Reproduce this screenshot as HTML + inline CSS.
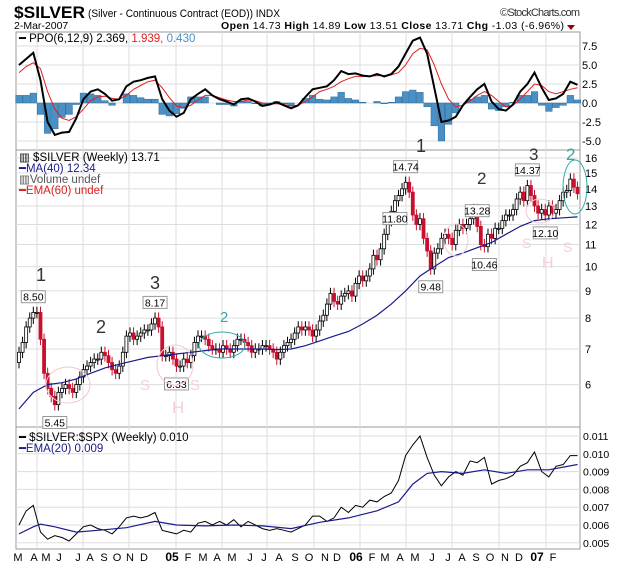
<!DOCTYPE html>
<html><head><meta charset="utf-8"><style>
body{margin:0;background:#fff;}
svg{display:block;font-family:"Liberation Sans",sans-serif;}
</style></head><body>
<svg id="c" width="620" height="566" viewBox="0 0 620 566" xmlns="http://www.w3.org/2000/svg">
<rect width="620" height="566" fill="#fff"/>
<g>
<text x="14" y="18" font-size="17" font-weight="bold" textLength="71" lengthAdjust="spacingAndGlyphs">$SILVER</text>
<text x="88" y="17" font-size="11" textLength="192" lengthAdjust="spacingAndGlyphs">(Silver - Continuous Contract (EOD)) INDX</text>
<text x="500" y="16" font-size="11" fill="#333" textLength="80">©StockCharts.com</text>
<text x="14" y="29" font-size="10.5">2-Mar-2007</text>
<text x="221" y="29" font-size="10.5" textLength="343"><tspan font-weight="bold">Open</tspan> 14.73 <tspan font-weight="bold">High</tspan> 14.89 <tspan font-weight="bold">Low</tspan> 13.51 <tspan font-weight="bold">Close</tspan> 13.71 <tspan font-weight="bold">Chg</tspan> -1.03 (-6.96%)</text>
<polygon points="567,25 575,25 571,30" fill="#900"/>
</g>
<g id="grid"></g>
<g id="marks"></g>
<g id="axes"></g>
<g fill="none" stroke-width="1">
<text x="36" y="281" font-size="18" fill="#333">1</text>
<text x="96" y="333" font-size="18" fill="#333">2</text>
<text x="150" y="289" font-size="18" fill="#333">3</text>
<text x="220" y="322" font-size="15" fill="#3aa">2</text>
<ellipse cx="222" cy="345" rx="23" ry="13" stroke="#3aa"/>
<text x="416" y="152" font-size="18" fill="#333">1</text>
<text x="477" y="184" font-size="17" fill="#333">2</text>
<text x="529" y="160" font-size="17" fill="#333">3</text>
<text x="566" y="160" font-size="17" fill="#3aa">2</text>
<ellipse cx="575" cy="187" rx="12" ry="27" stroke="#3aa"/>
<ellipse cx="68" cy="385" rx="22" ry="18" stroke="#f0c8d0"/>
<ellipse cx="175" cy="365" rx="18" ry="20" stroke="#f0c8d0"/>
<ellipse cx="456" cy="240" rx="12" ry="16" stroke="#f0c8d0"/>
<ellipse cx="540" cy="211" rx="14" ry="12" stroke="#f0c8d0"/>
<text x="172" y="413" font-size="17" fill="#f4d0d6">H</text>
<text x="542" y="268" font-size="16" fill="#f4d0d6">H</text>
<text x="140" y="390" font-size="15" fill="#f4d0d6">S</text>
<text x="190" y="390" font-size="15" fill="#f4d0d6">S</text>
<text x="522" y="248" font-size="14" fill="#f4d0d6">S</text>
<text x="563" y="252" font-size="14" fill="#f4d0d6">S</text>
</g>
</svg>
<script>
// ---- data ----
const closes=[6.9,7.2,7.7,8.0,8.2,8.2,7.3,6.3,5.9,5.7,5.5,5.8,5.9,6.0,5.9,5.8,6.0,6.2,6.4,6.5,6.6,6.7,6.7,6.9,6.8,6.6,6.4,6.3,6.5,6.9,7.4,7.5,7.3,7.4,7.5,7.6,7.6,7.8,8.0,7.7,6.8,6.8,6.9,6.7,6.5,6.5,6.7,6.6,6.8,7.2,7.4,7.4,7.3,7.1,7.0,7.0,6.9,7.1,7.0,6.9,7.1,7.3,7.3,7.2,7.1,6.9,7.0,7.0,7.1,7.1,7.0,6.9,6.7,6.9,7.1,7.2,7.3,7.5,7.7,7.6,7.7,7.6,7.4,7.6,7.9,8.1,8.5,8.9,8.6,8.5,8.8,8.9,9.0,8.8,9.3,9.6,9.4,9.6,9.9,10.5,10.3,10.8,11.5,12.2,12.7,13.3,13.6,14.0,14.4,13.8,12.5,12.0,12.3,11.3,10.7,9.9,10.6,10.8,11.3,11.5,11.3,11.0,11.7,12.0,11.8,12.0,12.3,12.8,11.9,11.0,10.9,11.5,11.3,11.8,11.8,12.2,12.5,12.5,12.8,13.4,13.8,13.3,14.2,13.6,13.0,12.6,12.8,12.5,13.0,12.6,12.8,13.3,13.8,13.9,14.6,14.1,13.71];
const firstOpen=6.6;
const maWeeks=[0,4,8,12,16,20,24,28,32,36,40,44,48,52,56,60,64,68,72,76,80,84,88,92,96,100,104,108,112,116,120,124,128,132,136,140,144,148,152,156];
const maValues=[5.4,5.8,6.0,6.05,6.15,6.3,6.45,6.55,6.65,6.75,6.8,6.85,6.9,6.95,7.0,7.0,7.0,7.0,6.98,7.0,7.1,7.25,7.4,7.55,7.8,8.1,8.5,9.0,9.6,10.0,10.4,10.6,10.85,11.1,11.5,11.9,12.2,12.3,12.35,12.4];
const ppoLine=[5.0,5.8,6.6,3.0,-2.5,-4.2,-3.9,-3.8,-2.0,0.5,1.5,1.8,1.2,0.3,0.5,2.2,2.8,3.0,3.3,3.5,0.5,-1.0,-1.8,-1.3,0.5,1.2,1.8,1.0,0.5,0.2,-0.2,0.5,0.6,0.2,-0.4,-0.2,0.1,-0.3,-0.7,-0.3,0.8,1.8,2.0,2.2,3.0,4.2,3.8,3.9,3.6,3.5,3.8,3.5,3.8,4.8,6.5,8.2,8.6,6.5,2.0,-2.5,-2.3,-1.8,-0.3,0.8,1.8,2.5,0.2,-0.8,-1.0,-0.2,1.5,2.5,4.0,2.0,0.4,0.6,1.2,2.8,2.4];
const ppoSignal=[4.0,4.8,5.3,4.5,1.5,-0.8,-2.0,-2.3,-1.8,-0.8,0.3,0.8,0.9,0.6,0.5,1.0,1.8,2.3,2.8,3.0,2.0,0.7,-0.4,-0.6,-0.3,0.4,1.0,1.0,0.7,0.4,0.2,0.2,0.4,0.3,0.0,-0.1,-0.1,-0.2,-0.4,-0.3,0.2,0.8,1.5,1.8,2.2,2.8,3.2,3.5,3.5,3.5,3.6,3.6,3.7,4.0,5.0,6.5,7.2,7.0,5.0,2.5,0.5,-0.5,-0.3,0.3,1.0,1.5,1.0,0.2,-0.5,-0.3,0.5,1.5,2.5,2.3,1.5,1.2,1.5,1.8,2.0];
const ratioLine=[6.0,6.8,7.1,5.6,5.2,5.4,5.3,5.1,5.5,5.9,6.0,5.8,5.7,5.5,5.9,6.4,6.5,6.4,6.5,6.7,5.7,5.6,5.5,5.7,5.6,6.1,6.2,6.0,6.2,6.0,6.3,5.9,6.2,6.0,5.8,5.7,5.8,5.7,5.6,5.8,6.0,6.5,6.5,6.2,6.4,7.0,6.7,7.1,7.0,7.4,7.3,7.6,7.8,8.5,9.9,10.5,11.0,9.8,8.8,8.2,8.7,9.0,8.8,9.6,9.5,9.8,8.3,8.5,8.6,8.8,9.3,9.5,10.1,9.0,8.7,9.3,9.4,9.9,9.9];
const emaWeeks=[0,4,6,10,16,22,30,38,44,52,60,68,76,84,92,100,106,110,114,118,124,130,136,142,148,156];
const emaValues=[5.5,5.9,6.05,5.9,5.6,5.7,5.85,6.2,6.0,5.95,6.0,5.95,5.8,6.15,6.4,6.8,7.3,8.3,8.9,9.0,8.9,9.1,8.9,9.1,9.1,9.4];
const priceTicks=[6,7,8,9,10,11,12,13,14,15,16];
const ppoTicks=[7.5,5.0,2.5,0.0,-2.5,-5.0];
const ratioTicks=[0.011,0.010,0.009,0.008,0.007,0.006,0.005];
const monthLabels=["M","A","M","J","J","A","S","O","N","D","05","F","M","A","M","J","J","A","S","O","N","D","06","F","M","A","M","J","J","A","S","O","N","D","07","F"];
const monthX=[18,34,46,59,78,90,104,117,130,144,172,188,203,217,232,250,264,279,295,309,325,337,356,372,385,400,415,432,448,462,476,490,505,519,537,553];
const priceLabels=[{i:4,v:"8.50",up:1},{i:10,v:"5.45",up:0},{i:38,v:"8.17",up:1},{i:44,v:"6.33",up:0},{i:108,v:"14.74",up:1},{i:105,v:"11.80",up:0},{i:128,v:"13.28",up:1},{i:115,v:"9.48",up:0},{i:130,v:"10.46",up:0},{i:142,v:"14.37",up:1},{i:147,v:"12.10",up:0}];

// ---- geometry ----
const L=16,R=580;
const P1={t:32,b:150},P2={t:150,b:427},P3={t:427,b:549};
const xw=i=>19+i*3.58;
const yPrice=p=>158+231*Math.log(16/p);
const yPpo=v=>103-v*7.6;
const yRatio=v=>436+(11-v)*17.8;
const NS="http://www.w3.org/2000/svg";
function mk(tag,attrs,parent){const e=document.createElementNS(NS,tag);for(const k in attrs)e.setAttribute(k,attrs[k]);parent.appendChild(e);return e;}
const grid=document.getElementById('grid'),marks=document.getElementById('marks'),axes=document.getElementById('axes');

[[P1,'ppo-panel'],[P2,'price-panel'],[P3,'ratio-panel']].forEach(([p,n])=>{
 const r=mk('rect',{x:L,y:p.t,width:R-L,height:p.b-p.t,fill:'#fff',stroke:'#999'},grid);
 
 
});
[37,83,129,176,222,267,314,360,406,452,499,546].forEach(x=>{
 const l=mk('line',{x1:x,x2:x,y1:P1.t,y2:P3.b,stroke:'#ddd'},grid);
 
 
});
priceTicks.forEach(t=>{const y=yPrice(t);
 const l=mk('line',{x1:L,x2:R,y1:y,y2:y,stroke:'#ddd'},grid);
 
 
 const tx=mk('text',{x:585,y:y+4,'font-size':11},axes);tx.textContent=String(t);
 
 
});
ppoTicks.forEach(t=>{const y=yPpo(t);
 const l=mk('line',{x1:L,x2:R,y1:y,y2:y,stroke:'#ddd'},grid);
 
 
 const tx=mk('text',{x:582,y:y+4,'font-size':11},axes);tx.textContent=t.toFixed(1);
 
 
});
ratioTicks.forEach(t=>{const y=yRatio(t*1000);
 const l=mk('line',{x1:L,x2:R,y1:y,y2:y,stroke:'#ddd'},grid);
 
 
 const tx=mk('text',{x:583,y:y+4,'font-size':10.5},axes);tx.textContent=t.toFixed(3);
 
 
});
monthLabels.forEach((m,k)=>{
 const tx=mk('text',{x:monthX[k],y:561,'font-size':m.length>1?12:11,'font-weight':m.length>1?'bold':'normal','text-anchor':'middle'},axes);tx.textContent=m;
 
 
});

ppoLine.forEach((v,k)=>{const h=v-ppoSignal[k];const x=xw(k*2);const y0=yPpo(0),y1=yPpo(h);
 const b=mk('rect',{x:x-3.3,y:Math.min(y0,y1),width:6.6,height:Math.abs(y1-y0),fill:'#4a90c4',stroke:'#2a6a9a','stroke-width':0.5},marks);
 
 
});
function poly(vals,xf,yf,color,w,name){const pts=vals.map((v,k)=>xf(k).toFixed(1)+','+yf(v).toFixed(1)).join(' ');
 const p=mk('polyline',{points:pts,fill:'none',stroke:color,'stroke-width':w},marks);
 
 }
poly(ppoSignal,k=>xw(k*2),yPpo,'#e02020',1,'ppo-signal-line');
poly(ppoLine,k=>xw(k*2),yPpo,'#000',2,'ppo-line');

closes.forEach((c,i)=>{const o=i?closes[i-1]:firstOpen;const hi=Math.max(o,c)*1.025,lo=Math.min(o,c)*0.975;const x=xw(i);
 const down=c<o;
 const w=mk('line',{x1:x,x2:x,y1:yPrice(hi),y2:yPrice(lo),stroke:down?'#c8102e':'#000','stroke-width':1},marks);
 
 
 const yt=yPrice(Math.max(o,c)),yb=yPrice(Math.min(o,c));
 const b=mk('rect',{x:x-1.5,y:yt,width:3,height:Math.max(1,yb-yt),fill:down?'#c8102e':'#fff',stroke:down?'#c8102e':'#000','stroke-width':0.8},marks);
 
 
});
poly(maValues,k=>xw(maWeeks[k]),yPrice,'#1a1a8c',1.2,'ma40-line');

priceLabels.forEach(pl=>{const c=closes[pl.i];const x=xw(pl.i);
 const y=pl.up?yPrice(c*1.025)-16:yPrice(c*0.975)+6;
 const r=mk('rect',{x:x-12,y:y,width:24,height:12,fill:'#fff',stroke:'#999'},marks);
 
 
 const t=mk('text',{x:x,y:y+10,'font-size':10.5,'text-anchor':'middle'},marks);t.textContent=pl.v;
 
 
});

poly(ratioLine,k=>xw(k*2),yRatio,'#000',1,'ratio-line');
poly(emaValues,k=>xw(emaWeeks[k]),yRatio,'#1a1a8c',1.2,'ratio-ema-line');

function leg(x,y,parts,name){const t=mk('text',{x:x,y:y,'font-size':11.5},axes);
 
 
 parts.forEach(p=>{const s=mk('tspan',{fill:p[1]},t);s.textContent=p[0];});}
leg(19,42,[["━ PPO(6,12,9) 2.369, ","#000"],["1.939, ","#e02020"],["0.430","#4a90c4"]],'ppo-legend');
leg(19,161,[["▥ $SILVER (Weekly) 13.71","#000"]],'price-legend');
leg(19,172,[["━","#1a1a8c"],["MA(40) 12.34","#1a1a8c"]],'ma-legend');
leg(19,183,[["▥Volume undef","#555"]],'volume-legend');
leg(19,194,[["━EMA(60) undef","#e02020"]],'ema60-legend');
leg(19,441,[["━ $SILVER:$SPX (Weekly) 0.010","#000"]],'ratio-legend');
leg(19,452,[["━EMA(20) 0.009","#1a1a8c"]],'ratio-ema-legend');
</script>
</body></html>
